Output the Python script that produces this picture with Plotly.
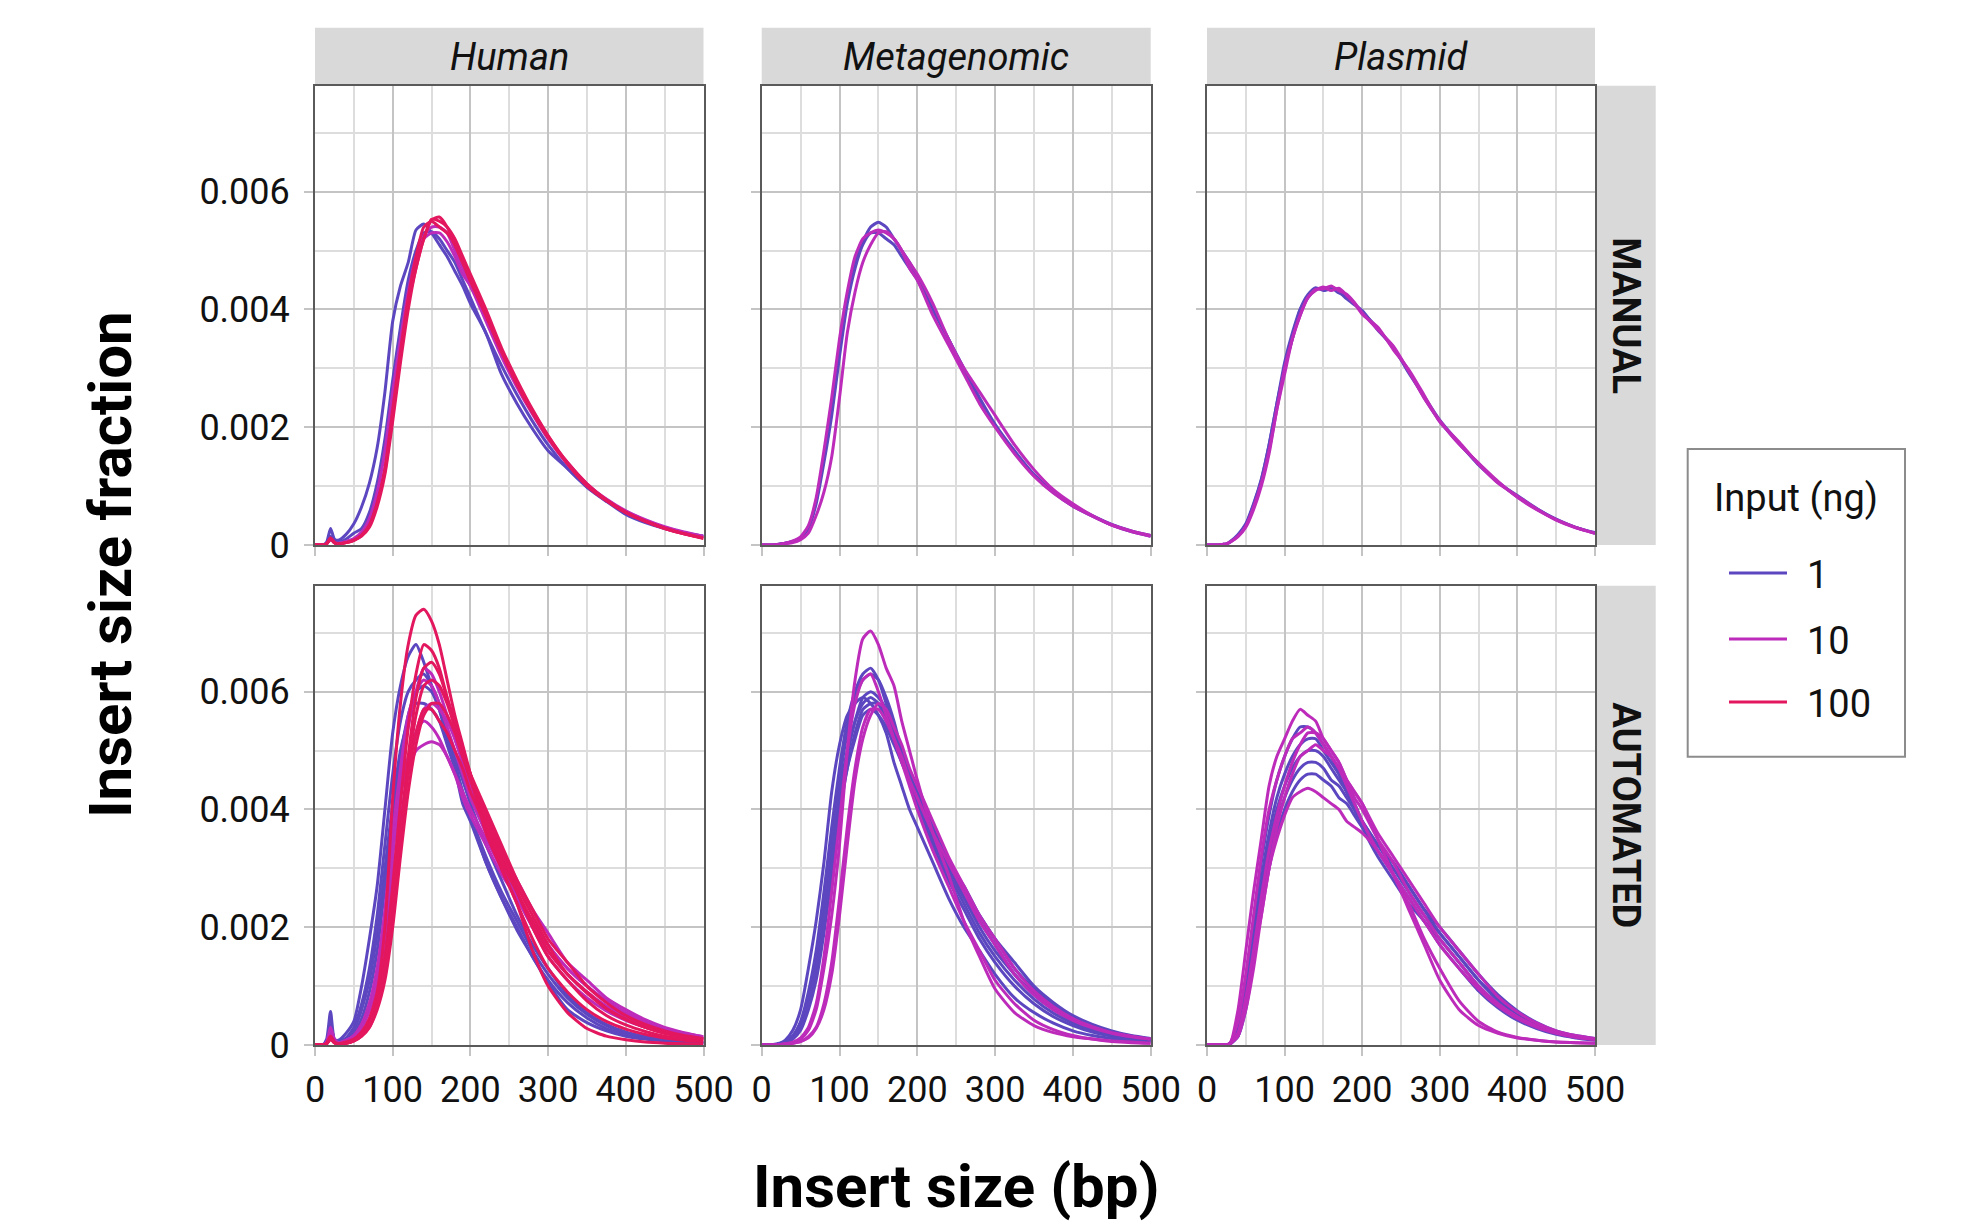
import plotly.graph_objects as go

# ---------------- data ----------------
X_BP = [0, 10, 15, 20, 25, 30, 40, 50, 60, 70, 80, 90, 100, 110, 120, 130, 140, 150, 160, 170,
        180, 190, 200, 220, 240, 260, 280, 300, 325, 350, 375, 400, 425, 450, 475, 500]

COLUMNS = ["Human", "Metagenomic", "Plasmid"]
ROWS_LABELS = ["MANUAL", "AUTOMATED"]
INPUT_LEVELS = ["1", "10", "100"]

# Human / MANUAL
hm_1a = [0, 0, 0.00005, 0.00028, 0.0001, 0.00008, 0.00018, 0.00036, 0.00065, 0.00105, 0.00165, 0.0026, 0.0038, 0.0044, 0.0048, 0.00535, 0.00545, 0.0053, 0.0051, 0.0049, 0.00465, 0.0044, 0.0041, 0.0036, 0.0029, 0.0024, 0.00197, 0.0016, 0.0013, 0.00098, 0.00074, 0.00052, 0.00038, 0.00028, 0.0002, 0.00015]
hm_1b = [0, 0, 0.00003, 0.00015, 0.00006, 0.00004, 0.0001, 0.0002, 0.00028, 0.00055, 0.00105, 0.0018, 0.0028, 0.0037, 0.0045, 0.005, 0.0053, 0.00532, 0.0052, 0.005, 0.0048, 0.0045, 0.0042, 0.0036, 0.00305, 0.00255, 0.0021, 0.0017, 0.0013, 0.00099, 0.00075, 0.00056, 0.00041, 0.0003, 0.00021, 0.00015]
hm_10a = [0, 0, 0.00002, 0.0001, 0.00004, 0.00003, 0.00006, 0.00011, 0.00022, 0.00045, 0.0009, 0.0016, 0.0026, 0.0035, 0.0043, 0.0049, 0.0052, 0.0053, 0.0053, 0.00515, 0.0049, 0.0046, 0.0044, 0.0038, 0.0032, 0.00268, 0.00222, 0.0018, 0.00137, 0.00102, 0.00077, 0.00057, 0.00042, 0.0003, 0.00021, 0.00014]
hm_10b = [0, 0, 0.00002, 0.0001, 0.00004, 0.00002, 0.00005, 0.0001, 0.00018, 0.00036, 0.00075, 0.0013, 0.0023, 0.0033, 0.0042, 0.0048, 0.00525, 0.0054, 0.0054, 0.0053, 0.005, 0.0047, 0.0044, 0.0039, 0.00328, 0.00272, 0.00225, 0.00182, 0.0014, 0.00104, 0.00078, 0.00058, 0.00043, 0.00031, 0.00022, 0.00015]
hm_100a = [0, 0, 0.00002, 0.00012, 0.00004, 0.00002, 0.00004, 0.00008, 0.00016, 0.00033, 0.0007, 0.00125, 0.0022, 0.0032, 0.0041, 0.0047, 0.0052, 0.00552, 0.00557, 0.0054, 0.0051, 0.0048, 0.00448, 0.0039, 0.0033, 0.00275, 0.00228, 0.00185, 0.00138, 0.001, 0.00075, 0.00055, 0.00041, 0.00029, 0.00019, 0.00011]
hm_100b = [0, 0, 0.00002, 0.00012, 0.00004, 0.00002, 0.00004, 0.00008, 0.00015, 0.0003, 0.00065, 0.0012, 0.0021, 0.0031, 0.004, 0.0047, 0.0052, 0.00553, 0.0055, 0.0054, 0.0052, 0.0049, 0.0046, 0.004, 0.00335, 0.0028, 0.0023, 0.00186, 0.0014, 0.00104, 0.00077, 0.00056, 0.0004, 0.00028, 0.00019, 0.00012]
hm_100c = [0, 0, 0.00002, 0.0001, 0.00004, 0.00002, 0.00004, 0.00008, 0.00017, 0.00034, 0.00072, 0.0013, 0.0023, 0.0033, 0.0042, 0.0049, 0.0054, 0.0055, 0.0054, 0.0053, 0.0051, 0.0048, 0.0045, 0.0039, 0.00328, 0.00272, 0.00224, 0.00182, 0.00138, 0.00102, 0.00076, 0.00055, 0.0004, 0.00028, 0.00019, 0.00012]

# Metagenomic / MANUAL
mm_1a = [0, 0, 0, 0.00001, 0.00002, 0.00003, 0.00006, 0.00012, 0.0003, 0.00075, 0.0015, 0.0023, 0.0033, 0.0042, 0.0048, 0.00515, 0.0054, 0.00548, 0.0054, 0.0052, 0.005, 0.0048, 0.00455, 0.004, 0.0035, 0.00295, 0.00245, 0.00203, 0.00157, 0.00118, 0.00089, 0.00066, 0.00049, 0.00034, 0.00023, 0.00015]
mm_1b = [0, 0, 0, 0.00001, 0.00002, 0.00003, 0.00006, 0.00012, 0.00028, 0.0007, 0.0014, 0.0022, 0.0032, 0.0041, 0.0047, 0.0051, 0.0053, 0.0053, 0.0052, 0.0051, 0.0049, 0.0047, 0.0045, 0.004, 0.0035, 0.003, 0.0025, 0.00205, 0.0016, 0.0012, 0.0009, 0.00067, 0.0005, 0.00035, 0.00024, 0.00016]
mm_10a = [0, 0, 0, 0.00001, 0.00002, 0.00003, 0.00007, 0.00014, 0.00033, 0.0008, 0.0016, 0.0025, 0.0035, 0.0043, 0.0049, 0.0052, 0.0053, 0.00535, 0.0053, 0.0052, 0.005, 0.0047, 0.0045, 0.0039, 0.0034, 0.0029, 0.0024, 0.002, 0.00155, 0.00117, 0.00088, 0.00066, 0.00049, 0.00034, 0.00023, 0.00015]
mm_10b = [0, 0, 0, 0, 0.00001, 0.00002, 0.00004, 0.00009, 0.0002, 0.0005, 0.0009, 0.0015, 0.0025, 0.0036, 0.0043, 0.0048, 0.0051, 0.0053, 0.00532, 0.0052, 0.005, 0.0048, 0.0046, 0.0041, 0.0035, 0.003, 0.0026, 0.0022, 0.0017, 0.00128, 0.00094, 0.0007, 0.0005, 0.00034, 0.00024, 0.00016]

# Plasmid / MANUAL
pm_1a = [0, 0, 0, 0.00001, 0.00002, 0.00006, 0.00018, 0.00036, 0.0007, 0.00112, 0.0017, 0.0024, 0.0031, 0.0036, 0.004, 0.0042, 0.00435, 0.00436, 0.00437, 0.00428, 0.00422, 0.0041, 0.00396, 0.00368, 0.00334, 0.00296, 0.0025, 0.0021, 0.00172, 0.00138, 0.00106, 0.00084, 0.00062, 0.00043, 0.0003, 0.0002]
pm_1b = [0, 0, 0, 0.00001, 0.00002, 0.00005, 0.00016, 0.00034, 0.00068, 0.0011, 0.0017, 0.0024, 0.003, 0.0035, 0.004, 0.00425, 0.00437, 0.00432, 0.00435, 0.0043, 0.00418, 0.00408, 0.00398, 0.00365, 0.00336, 0.00292, 0.00252, 0.00212, 0.00173, 0.00136, 0.00107, 0.00082, 0.00061, 0.00044, 0.0003, 0.00021]
pm_10a = [0, 0, 0, 0.00001, 0.00002, 0.00005, 0.00015, 0.00032, 0.00064, 0.00105, 0.0016, 0.0023, 0.003, 0.0035, 0.0039, 0.0042, 0.00432, 0.00438, 0.00432, 0.00436, 0.00424, 0.0041, 0.00392, 0.0037, 0.00332, 0.00298, 0.00254, 0.00209, 0.00175, 0.00137, 0.00105, 0.00083, 0.00061, 0.00042, 0.00029, 0.0002]
pm_10b = [0, 0, 0, 0.00001, 0.00002, 0.00005, 0.00014, 0.0003, 0.0006, 0.001, 0.00155, 0.0023, 0.0029, 0.0035, 0.0039, 0.0042, 0.00434, 0.00435, 0.0044, 0.00432, 0.00426, 0.00412, 0.00394, 0.00366, 0.00338, 0.00295, 0.00249, 0.00211, 0.00171, 0.00139, 0.00108, 0.00081, 0.0006, 0.00043, 0.0003, 0.0002]

# Human / AUTOMATED
ha_1a = [0, 0, 0.0001, 0.00057, 0.0001, 0.00008, 0.0002, 0.0004, 0.001, 0.0018, 0.0027, 0.004, 0.0053, 0.0061, 0.0066, 0.0068, 0.0065, 0.0061, 0.0057, 0.0052, 0.0047, 0.0041, 0.0038, 0.0031, 0.0025, 0.00195, 0.0015, 0.00105, 0.0006, 0.00038, 0.00024, 0.00015, 0.0001, 0.00007, 0.00005, 0.00004]
ha_1b = [0, 0, 0.00005, 0.0003, 0.00008, 0.00005, 0.00012, 0.0003, 0.0007, 0.0013, 0.0022, 0.0034, 0.0046, 0.0055, 0.006, 0.0062, 0.0063, 0.0061, 0.0058, 0.0053, 0.0048, 0.0043, 0.0039, 0.0031, 0.0025, 0.002, 0.0015, 0.0011, 0.00072, 0.00046, 0.00028, 0.00018, 0.00011, 0.00007, 0.00005, 0.00003]
ha_1c = [0, 0, 0.00004, 0.00035, 0.00008, 0.00004, 0.0001, 0.00025, 0.0006, 0.0011, 0.0019, 0.003, 0.0041, 0.005, 0.0055, 0.0058, 0.0058, 0.0057, 0.0055, 0.0051, 0.0047, 0.0043, 0.0039, 0.0032, 0.0026, 0.0021, 0.0016, 0.0012, 0.0008, 0.00052, 0.00033, 0.00021, 0.00013, 0.00009, 0.00006, 0.00004]
ha_1d = [0, 0, 0.00003, 0.0002, 0.00006, 0.00003, 0.00008, 0.00018, 0.00045, 0.0009, 0.0016, 0.0027, 0.0039, 0.0049, 0.0056, 0.006, 0.0061, 0.006, 0.0057, 0.0053, 0.0049, 0.0045, 0.0041, 0.0034, 0.0028, 0.0022, 0.0017, 0.0013, 0.00085, 0.00055, 0.00035, 0.00022, 0.00014, 0.00009, 0.00006, 0.00004]
ha_10a = [0, 0, 0.00005, 0.00025, 0.00008, 0.00004, 0.00008, 0.00015, 0.0003, 0.0006, 0.0011, 0.0019, 0.0029, 0.0038, 0.0046, 0.005, 0.0051, 0.00515, 0.0051, 0.0049, 0.0046, 0.0042, 0.0039, 0.0034, 0.0029, 0.0025, 0.0021, 0.0017, 0.0013, 0.001, 0.00075, 0.00053, 0.00037, 0.00024, 0.00016, 0.00011]
ha_10b = [0, 0, 0.00005, 0.0003, 0.0001, 0.00004, 0.00008, 0.00016, 0.00035, 0.0007, 0.0013, 0.0022, 0.0033, 0.0042, 0.0049, 0.0053, 0.0055, 0.0054, 0.0052, 0.0049, 0.0046, 0.0043, 0.004, 0.0035, 0.003, 0.0025, 0.0021, 0.0017, 0.0013, 0.001, 0.00075, 0.00055, 0.0004, 0.00028, 0.0002, 0.00014]
ha_10c = [0, 0, 0.00004, 0.00022, 0.00008, 0.00004, 0.00008, 0.00016, 0.00035, 0.0007, 0.0013, 0.0023, 0.0036, 0.0047, 0.0056, 0.006, 0.0062, 0.0061, 0.0058, 0.0054, 0.005, 0.0046, 0.0042, 0.0036, 0.003, 0.0025, 0.002, 0.0016, 0.0012, 0.0009, 0.00066, 0.00048, 0.00034, 0.00024, 0.00017, 0.00012]
ha_10d = [0, 0, 0.00003, 0.00018, 0.00006, 0.00003, 0.00006, 0.00013, 0.0003, 0.0006, 0.0011, 0.002, 0.0032, 0.0044, 0.0054, 0.006, 0.0064, 0.0063, 0.006, 0.0056, 0.0052, 0.0048, 0.0044, 0.0037, 0.0031, 0.0025, 0.002, 0.0015, 0.0011, 0.0008, 0.00058, 0.00042, 0.0003, 0.00021, 0.00015, 0.0001]
ha_10e = [0, 0, 0.00003, 0.00015, 0.00005, 0.00003, 0.00005, 0.0001, 0.00022, 0.00045, 0.0009, 0.0016, 0.0026, 0.0037, 0.0047, 0.0053, 0.0057, 0.0058, 0.0057, 0.0055, 0.0052, 0.0048, 0.0045, 0.0039, 0.0033, 0.0028, 0.0023, 0.0019, 0.0014, 0.0011, 0.0008, 0.0006, 0.00043, 0.0003, 0.00021, 0.00014]
ha_100a = [0, 0, 0.00003, 0.00015, 0.00005, 0.00002, 0.00005, 0.0001, 0.00022, 0.00045, 0.0009, 0.002, 0.0042, 0.0058, 0.0068, 0.0073, 0.0074, 0.0072, 0.0068, 0.0062, 0.0056, 0.0051, 0.0046, 0.0036, 0.003, 0.0024, 0.0016, 0.001, 0.00055, 0.00028, 0.00015, 0.00009, 0.00005, 0.00003, 0.00002, 0.00002]
ha_100b = [0, 0, 0.00003, 0.00015, 0.00005, 0.00002, 0.00004, 0.00009, 0.0002, 0.0004, 0.0008, 0.0015, 0.0027, 0.0041, 0.0054, 0.0063, 0.0068, 0.0067, 0.0064, 0.0059, 0.0054, 0.0049, 0.0045, 0.0037, 0.003, 0.0024, 0.0018, 0.0013, 0.0009, 0.0006, 0.0004, 0.00027, 0.00018, 0.00012, 0.00008, 0.00006]
ha_100c = [0, 0, 0.00002, 0.00012, 0.00004, 0.00002, 0.00003, 0.00007, 0.00016, 0.00034, 0.0007, 0.0013, 0.0023, 0.0036, 0.0049, 0.0059, 0.0064, 0.0065, 0.0063, 0.0059, 0.0055, 0.005, 0.0046, 0.0038, 0.0032, 0.0026, 0.002, 0.0015, 0.0011, 0.00075, 0.0005, 0.00034, 0.00023, 0.00015, 0.0001, 0.00007]
ha_100d = [0, 0, 0.00002, 0.0001, 0.00004, 0.00002, 0.00003, 0.00007, 0.00015, 0.0003, 0.00065, 0.0012, 0.0022, 0.0035, 0.0047, 0.0056, 0.0061, 0.0062, 0.0061, 0.0058, 0.0054, 0.005, 0.0046, 0.0039, 0.0033, 0.0027, 0.0022, 0.0017, 0.0012, 0.0009, 0.00062, 0.00043, 0.0003, 0.0002, 0.00014, 0.0001]
ha_100e = [0, 0, 0.00002, 0.0001, 0.00004, 0.00002, 0.00003, 0.00007, 0.00015, 0.0003, 0.0006, 0.0011, 0.002, 0.0032, 0.0043, 0.0051, 0.0056, 0.0058, 0.0058, 0.0056, 0.0053, 0.0049, 0.0046, 0.004, 0.0034, 0.0028, 0.0023, 0.0018, 0.0014, 0.001, 0.00072, 0.0005, 0.00035, 0.00024, 0.00016, 0.00011]
ha_100f = [0, 0, 0.00002, 0.00012, 0.00004, 0.00002, 0.00004, 0.00008, 0.00018, 0.00035, 0.0007, 0.0013, 0.0024, 0.0036, 0.0046, 0.0053, 0.0057, 0.0057, 0.0055, 0.0053, 0.005, 0.0047, 0.0043, 0.0037, 0.0031, 0.0026, 0.0021, 0.0016, 0.0012, 0.00088, 0.00062, 0.00044, 0.0003, 0.0002, 0.00014, 0.0001]

# Metagenomic / AUTOMATED
ma_1a = [0, 0, 0.00001, 0.00002, 0.00004, 0.00008, 0.00025, 0.0006, 0.0013, 0.0021, 0.0031, 0.0043, 0.0051, 0.0056, 0.0058, 0.0059, 0.0058, 0.0056, 0.0053, 0.0048, 0.0044, 0.004, 0.0037, 0.0031, 0.0025, 0.002, 0.0016, 0.0012, 0.0008, 0.00055, 0.00037, 0.00024, 0.00016, 0.00011, 0.00008, 0.00006]
ma_1b = [0, 0, 0, 0.00001, 0.00003, 0.00005, 0.00016, 0.0004, 0.0009, 0.0016, 0.0026, 0.0037, 0.0047, 0.0055, 0.006, 0.0063, 0.0064, 0.0062, 0.0058, 0.0054, 0.0049, 0.0045, 0.0041, 0.0034, 0.0028, 0.0023, 0.0018, 0.0014, 0.001, 0.0007, 0.00048, 0.00033, 0.00022, 0.00015, 0.0001, 0.00007]
ma_1c = [0, 0, 0, 0.00001, 0.00002, 0.00004, 0.00013, 0.00034, 0.0008, 0.0015, 0.0024, 0.0035, 0.0045, 0.0053, 0.0059, 0.0062, 0.0063, 0.0062, 0.0059, 0.0055, 0.005, 0.0046, 0.0042, 0.0035, 0.0029, 0.0024, 0.0019, 0.0015, 0.0011, 0.00078, 0.00054, 0.00037, 0.00025, 0.00017, 0.00012, 0.00008]
ma_1d = [0, 0, 0, 0.00001, 0.00002, 0.00004, 0.00012, 0.0003, 0.0007, 0.0013, 0.0021, 0.0031, 0.0041, 0.0049, 0.0055, 0.0059, 0.006, 0.0059, 0.0057, 0.0053, 0.0049, 0.0045, 0.0042, 0.0036, 0.003, 0.0025, 0.002, 0.0016, 0.0012, 0.00085, 0.0006, 0.00041, 0.00028, 0.00019, 0.00013, 0.00009]
ma_1e = [0, 0, 0, 0.00001, 0.00003, 0.00005, 0.00015, 0.00038, 0.0008, 0.0015, 0.0024, 0.0034, 0.0043, 0.005, 0.0055, 0.0058, 0.0059, 0.0058, 0.0055, 0.0052, 0.0048, 0.0045, 0.0041, 0.0035, 0.003, 0.0025, 0.0021, 0.0017, 0.0012, 0.00088, 0.00062, 0.00043, 0.0003, 0.0002, 0.00014, 0.0001]
ma_1f = [0, 0, 0, 0.00001, 0.00002, 0.00003, 0.0001, 0.00025, 0.0006, 0.0011, 0.0019, 0.0029, 0.0039, 0.0047, 0.0053, 0.0057, 0.0058, 0.0058, 0.0056, 0.0053, 0.005, 0.0046, 0.0043, 0.0037, 0.0031, 0.0026, 0.0022, 0.0018, 0.0013, 0.00095, 0.00068, 0.00047, 0.00032, 0.00022, 0.00015, 0.0001]
ma_1g = [0, 0, 0, 0.00001, 0.00002, 0.00004, 0.00012, 0.0003, 0.00068, 0.0013, 0.0021, 0.0031, 0.004, 0.0047, 0.0052, 0.0056, 0.0057, 0.0056, 0.0054, 0.0051, 0.0048, 0.0045, 0.0042, 0.0036, 0.0031, 0.0027, 0.0022, 0.0018, 0.0014, 0.001, 0.00072, 0.0005, 0.00035, 0.00024, 0.00016, 0.00011]
ma_10a = [0, 0, 0, 0, 0.00001, 0.00002, 0.00004, 0.0001, 0.00025, 0.0006, 0.0013, 0.0022, 0.0034, 0.005, 0.0062, 0.0069, 0.00703, 0.0068, 0.0064, 0.0061, 0.0055, 0.005, 0.0045, 0.0036, 0.0029, 0.0021, 0.0015, 0.00095, 0.00055, 0.00033, 0.00021, 0.00014, 0.0001, 0.00006, 0.00004, 0.00003]
ma_10b = [0, 0, 0, 0, 0.00001, 0.00002, 0.00005, 0.00012, 0.0003, 0.0007, 0.0015, 0.0026, 0.0038, 0.005, 0.0058, 0.0062, 0.0063, 0.006, 0.0056, 0.0052, 0.0048, 0.0044, 0.004, 0.0033, 0.0027, 0.0021, 0.0016, 0.0011, 0.0007, 0.00042, 0.00026, 0.00016, 0.0001, 0.00007, 0.00005, 0.00003]
ma_10c = [0, 0, 0, 0, 0, 0.00001, 0.00003, 0.00006, 0.00014, 0.0003, 0.0007, 0.0014, 0.0025, 0.0037, 0.0047, 0.0054, 0.0057, 0.0057, 0.0055, 0.0052, 0.0049, 0.0045, 0.0042, 0.0036, 0.0031, 0.0026, 0.0021, 0.0017, 0.0012, 0.00085, 0.0006, 0.00042, 0.00029, 0.0002, 0.00014, 0.0001]
ma_10d = [0, 0, 0, 0, 0, 0.00001, 0.00003, 0.00006, 0.00012, 0.00028, 0.0006, 0.0012, 0.0022, 0.0034, 0.0045, 0.0052, 0.0056, 0.0058, 0.0057, 0.0054, 0.0051, 0.0047, 0.0044, 0.0038, 0.0032, 0.0027, 0.0022, 0.0018, 0.0013, 0.00092, 0.00065, 0.00045, 0.00031, 0.00021, 0.00015, 0.0001]

# Plasmid / AUTOMATED
pa_1a = [0, 0, 0, 0, 0, 0.00004, 0.0003, 0.0011, 0.0021, 0.0031, 0.0039, 0.0045, 0.0049, 0.0052, 0.0054, 0.0054, 0.0053, 0.0051, 0.0049, 0.0046, 0.0043, 0.004, 0.0037, 0.0032, 0.0028, 0.0024, 0.0021, 0.0017, 0.0013, 0.00092, 0.00063, 0.00042, 0.00028, 0.00018, 0.00012, 0.00008]
pa_1b = [0, 0, 0, 0, 0, 0.00003, 0.00025, 0.0009, 0.0018, 0.0028, 0.0036, 0.0042, 0.0046, 0.0049, 0.0051, 0.0052, 0.0052, 0.005, 0.0048, 0.0046, 0.0043, 0.0041, 0.0038, 0.0033, 0.0029, 0.0025, 0.0021, 0.0018, 0.0014, 0.001, 0.0007, 0.00048, 0.00032, 0.0002, 0.00013, 0.00009]
pa_1c = [0, 0, 0, 0, 0, 0.00003, 0.0002, 0.0008, 0.0016, 0.0026, 0.0034, 0.004, 0.0044, 0.0047, 0.0049, 0.005, 0.005, 0.0049, 0.0047, 0.0045, 0.0043, 0.004, 0.0038, 0.0034, 0.003, 0.0026, 0.0022, 0.0019, 0.0015, 0.0011, 0.00076, 0.00052, 0.00034, 0.00022, 0.00014, 0.0001]
pa_1d = [0, 0, 0, 0, 0, 0.00002, 0.00015, 0.0007, 0.0015, 0.0024, 0.0032, 0.0038, 0.0042, 0.0045, 0.0047, 0.0048, 0.0048, 0.0047, 0.0045, 0.0044, 0.0042, 0.004, 0.0038, 0.0034, 0.0031, 0.0027, 0.0023, 0.0019, 0.0015, 0.0011, 0.0008, 0.00055, 0.00036, 0.00023, 0.00015, 0.0001]
pa_1e = [0, 0, 0, 0, 0, 0.00002, 0.00015, 0.0006, 0.0014, 0.0023, 0.003, 0.0036, 0.004, 0.0043, 0.0045, 0.0046, 0.0046, 0.0045, 0.0044, 0.0042, 0.0041, 0.0039, 0.0037, 0.0034, 0.0031, 0.0027, 0.0023, 0.002, 0.0016, 0.0012, 0.00085, 0.00058, 0.00038, 0.00024, 0.00016, 0.00011]
pa_10a = [0, 0, 0, 0, 0, 0.00003, 0.0006, 0.0016, 0.0026, 0.0035, 0.0044, 0.0049, 0.0052, 0.0055, 0.0057, 0.0056, 0.0055, 0.0052, 0.005, 0.0048, 0.0045, 0.0043, 0.0041, 0.0035, 0.0029, 0.0024, 0.0018, 0.0013, 0.00075, 0.0004, 0.00022, 0.00013, 0.00008, 0.00005, 0.00004, 0.00003]
pa_10b = [0, 0, 0, 0, 0, 0.00003, 0.0002, 0.0007, 0.0015, 0.0022, 0.003, 0.0035, 0.0039, 0.0042, 0.0043, 0.00436, 0.0043, 0.0042, 0.0041, 0.004, 0.0038, 0.0037, 0.0036, 0.0033, 0.0029, 0.0023, 0.0017, 0.0011, 0.0006, 0.00033, 0.0002, 0.00012, 0.00008, 0.00005, 0.00004, 0.00003]
pa_10c = [0, 0, 0, 0, 0, 0.00004, 0.0004, 0.0012, 0.0022, 0.0032, 0.004, 0.0045, 0.0049, 0.0052, 0.0053, 0.0054, 0.0053, 0.0051, 0.0049, 0.0047, 0.0044, 0.0041, 0.0038, 0.0033, 0.0029, 0.0025, 0.0021, 0.0017, 0.0013, 0.00095, 0.00066, 0.00045, 0.0003, 0.0002, 0.00013, 0.00009]
pa_10d = [0, 0, 0, 0, 0, 0.00003, 0.0002, 0.0008, 0.0016, 0.0025, 0.0033, 0.0039, 0.0044, 0.0048, 0.0051, 0.0053, 0.0053, 0.0052, 0.005, 0.0048, 0.0045, 0.0042, 0.004, 0.0035, 0.0031, 0.0026, 0.0022, 0.0018, 0.0014, 0.001, 0.0007, 0.00048, 0.00032, 0.00021, 0.00014, 0.0001]
pa_10e = [0, 0, 0, 0, 0, 0.00002, 0.00015, 0.0006, 0.0013, 0.0022, 0.003, 0.0037, 0.0042, 0.0046, 0.0049, 0.005, 0.0051, 0.005, 0.0049, 0.0047, 0.0045, 0.0043, 0.0041, 0.0036, 0.0032, 0.0028, 0.0024, 0.002, 0.0016, 0.0012, 0.00082, 0.00056, 0.00037, 0.00024, 0.00016, 0.00011]

X_TICKS = [0, 100, 200, 300, 400, 500]
Y_TICKS = [0, 0.002, 0.004, 0.006]
LEGEND_TITLE = "Input (ng)"

# panel table: (row index, col index, [(input level, curve)])
PANELS = [
    (0, 0, [("1", hm_1a), ("1", hm_1b), ("10", hm_10a), ("10", hm_10b),
            ("100", hm_100a), ("100", hm_100b), ("100", hm_100c)]),
    (0, 1, [("1", mm_1a), ("1", mm_1b), ("10", mm_10a), ("10", mm_10b)]),
    (0, 2, [("1", pm_1a), ("1", pm_1b), ("10", pm_10a), ("10", pm_10b)]),
    (1, 0, [("1", ha_1a), ("1", ha_1b), ("1", ha_1c), ("1", ha_1d),
            ("10", ha_10a), ("10", ha_10b), ("10", ha_10c), ("10", ha_10d), ("10", ha_10e),
            ("100", ha_100a), ("100", ha_100b), ("100", ha_100c), ("100", ha_100d),
            ("100", ha_100e), ("100", ha_100f)]),
    (1, 1, [("1", ma_1a), ("1", ma_1b), ("1", ma_1c), ("1", ma_1d), ("1", ma_1e), ("1", ma_1f), ("1", ma_1g),
            ("10", ma_10a), ("10", ma_10b), ("10", ma_10c), ("10", ma_10d)]),
    (1, 2, [("1", pa_1a), ("1", pa_1b), ("1", pa_1c), ("1", pa_1d), ("1", pa_1e),
            ("10", pa_10a), ("10", pa_10b), ("10", pa_10c), ("10", pa_10d), ("10", pa_10e)]),
]

# ---------------- style / layout ----------------
COLORS = {"1": "#5C47C0", "10": "#BD2BBA", "100": "#E3175E"}
FONT = "Roboto"
W, H = 1982, 1221
COL_PX = [(315, 703.5), (761.7, 1150.7), (1207, 1595)]
ROW_PX = [(85.7, 545), (585.7, 1045)]
Y_MAX = 0.0078
LINE_W = 3


def fx(px):
    return px / W


def fy(py):
    return 1 - py / H


fig = go.Figure()
for r, c, curves in PANELS:
    n = r * 3 + c + 1
    sfx = "" if n == 1 else str(n)
    for lvl, vals in curves:
        fig.add_trace(go.Scatter(
            x=X_BP, y=vals, mode="lines", name=lvl, legendgroup=lvl, showlegend=False,
            line=dict(color=COLORS[lvl], width=LINE_W, shape="spline", smoothing=0.6),
            xaxis="x" + sfx, yaxis="y" + sfx, hoverinfo="skip"))

axis_common = dict(
    showgrid=True, gridcolor="#C4C4C4", gridwidth=2,
    showline=True, mirror=True, linecolor="#5A5A5A", linewidth=2,
    ticks="outside", ticklen=9, tickwidth=2, tickcolor="#C4C4C4",
    tickfont=dict(family=FONT, size=36, color="#111111"),
    zeroline=False, fixedrange=True,
)

layout = dict(
    width=W, height=H, margin=dict(l=0, r=0, t=0, b=0, autoexpand=False),
    paper_bgcolor="white", plot_bgcolor="white", showlegend=False,
    font=dict(family=FONT, color="#111111"),
    shapes=[], annotations=[],
)

for r in range(2):
    for c in range(3):
        n = r * 3 + c + 1
        sfx = "" if n == 1 else str(n)
        x0, x1 = COL_PX[c]
        y0, y1 = ROW_PX[r]
        layout["xaxis" + sfx] = dict(
            axis_common, domain=[fx(x0), fx(x1)], range=[0, 500], anchor="y" + sfx,
            tickvals=X_TICKS, showticklabels=(r == 1), ticklabelstandoff=3,
            minor=dict(dtick=50, tick0=0, showgrid=True, gridcolor="#DDDDDD", gridwidth=1.6, ticks=""),
        )
        layout["yaxis" + sfx] = dict(
            axis_common, domain=[fy(y1), fy(y0)], range=[0, Y_MAX], anchor="x" + sfx,
            tickvals=Y_TICKS, ticktext=[str(v) if v else "0" for v in Y_TICKS],
            showticklabels=(c == 0), ticklabelstandoff=7,
            minor=dict(dtick=0.001, tick0=0, showgrid=True, gridcolor="#DDDDDD", gridwidth=1.6, ticks=""),
        )

# facet strips
for c, name in enumerate(COLUMNS):
    x0, x1 = COL_PX[c]
    layout["shapes"].append(dict(type="rect", xref="paper", yref="paper",
                                 x0=fx(x0), x1=fx(x1), y0=fy(85.7), y1=fy(27.7),
                                 fillcolor="#D9D9D9", line=dict(width=0), layer="below"))
    layout["annotations"].append(dict(text=name, xref="paper", yref="paper",
                                      x=fx((x0 + x1) / 2), y=fy(56.5), showarrow=False,
                                      xanchor="center", yanchor="middle",
                                      font=dict(family=FONT, size=38, style="italic", color="#111111")))
for r, name in enumerate(ROWS_LABELS):
    y0, y1 = ROW_PX[r]
    layout["shapes"].append(dict(type="rect", xref="paper", yref="paper",
                                 x0=fx(1596), x1=fx(1655.7), y0=fy(y1), y1=fy(y0),
                                 fillcolor="#D9D9D9", line=dict(width=0), layer="below"))
    layout["annotations"].append(dict(text="<b>" + name + "</b>", xref="paper", yref="paper",
                                      x=fx(1626), y=fy((y0 + y1) / 2), showarrow=False, textangle=90,
                                      xanchor="center", yanchor="middle",
                                      font=dict(family=FONT, size=38, color="#111111")))

# axis titles
layout["annotations"].append(dict(text="<b>Insert size (bp)</b>", xref="paper", yref="paper",
                                  x=fx(956), y=fy(1186), showarrow=False, xanchor="center", yanchor="middle",
                                  font=dict(family=FONT, size=60, color="#000000")))
layout["annotations"].append(dict(text="<b>Insert size fraction</b>", xref="paper", yref="paper",
                                  x=fx(110), y=fy(565), showarrow=False, textangle=-90,
                                  xanchor="center", yanchor="middle",
                                  font=dict(family=FONT, size=60, color="#000000")))

# legend box (drawn with shapes + text)
LEG_BOX = (1687.7, 449, 1905, 756.7)
LEG_ROWS_Y = [573, 639, 702]
layout["shapes"].append(dict(type="rect", xref="paper", yref="paper",
                             x0=fx(LEG_BOX[0]), x1=fx(LEG_BOX[2]), y0=fy(LEG_BOX[3]), y1=fy(LEG_BOX[1]),
                             fillcolor="white", line=dict(color="#8C8C8C", width=2)))
layout["annotations"].append(dict(text=LEGEND_TITLE, xref="paper", yref="paper",
                                  x=fx(1712), y=fy(498), showarrow=False, xanchor="left", yanchor="middle",
                                  font=dict(family=FONT, size=38, color="#111111")))
for lvl, yy in zip(INPUT_LEVELS, LEG_ROWS_Y):
    layout["shapes"].append(dict(type="line", xref="paper", yref="paper",
                                 x0=fx(1729), x1=fx(1787), y0=fy(yy), y1=fy(yy),
                                 line=dict(color=COLORS[lvl], width=LINE_W)))
    layout["annotations"].append(dict(text=lvl, xref="paper", yref="paper",
                                      x=fx(1805), y=fy(yy + 2), showarrow=False, xanchor="left", yanchor="middle",
                                      font=dict(family=FONT, size=38, color="#111111")))

fig.update_layout(**layout)
fig.write_html("out.html", config={"displayModeBar": False},
               post_script="document.body.style.margin='0';document.documentElement.style.overflow='hidden';")
